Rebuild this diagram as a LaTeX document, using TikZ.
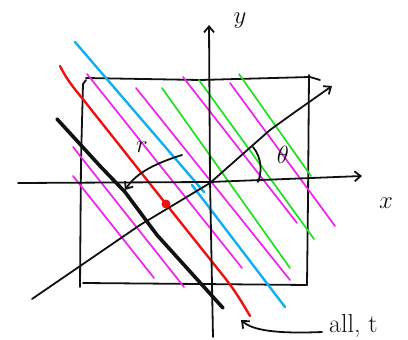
\documentclass[tikz,border=0pt]{standalone}
\usepackage{xcolor}
\usepackage{tikz}
\usetikzlibrary{arrows.meta,positioning}
\definecolor{ink}{HTML}{111111}
\definecolor{pinkln}{HTML}{F020F0}
\definecolor{skyln}{HTML}{10B0F0}
\definecolor{limeln}{HTML}{20E020}
\definecolor{redln}{HTML}{F01010}
\tikzset{
  pen/.style={draw=ink, line width=1.8pt, line cap=round, line join=round},
  axis/.style={pen, -{Straight Barb[length=6pt, width=10pt]}},
  hatch/.style={line width=1.7pt, line cap=round},
  pinkhatch/.style={hatch, draw=pinkln},
  skyhatch/.style={hatch, draw=skyln, line width=2.4pt},
  limehatch/.style={hatch, draw=limeln},
  lbl/.style={font=\fontsize{26}{28}\selectfont, text=ink, inner sep=1pt},
}
\begin{document}
\begin{tikzpicture}[x=1pt, y=-1pt]
\useasboundingbox (0,0) rectangle (408,340);
% frame
\draw[pen] (86,80) -- (83,84) -- (81,160) -- (80,287);
\draw[pen] (86,78) -- (200,80) -- (310,77) -- (320,80);
\draw[pen] (309,75) -- (308,200) -- (307,285);
\draw[pen] (83,283) -- (200,284) -- (307,285);
% hatching
\draw[pinkhatch] (73,147) -- (184,287);
\draw[pinkhatch] (73,176) -- (154,278);
\draw[pinkhatch] (87,74) -- (242,268);
\draw[pinkhatch] (136,88) -- (290,280);
\draw[pinkhatch] (183,77) -- (297,223);
\draw[pinkhatch] (230,83) -- (335,226);
\draw[limehatch] (162,88) -- (290,268);
\draw[limehatch] (199,80) -- (314,239);
\draw[limehatch] (239,74) -- (311,176);
\draw[skyhatch] (75,42) -- (204,192);
\draw[skyhatch] (192,185) -- (285,307);
\draw[draw=redln, line width=2.4pt, line cap=round]
  (60,66) .. controls (66,78) and (72,86) .. (82,98) -- (166,204) -- (225,278)
  .. controls (236,292) and (243,304) .. (250,316);
\draw[ink, line width=3.6pt, line cap=round, line join=round]
  (57,119) -- (100,166) -- (125,192) -- (157,235) -- (223,308);
\draw[ink, line width=1.2pt] (60,122) -- (104,170) -- (128,196);
% axes
\draw[axis] (18,183) -- (210,182) -- (362,176);
\draw[axis] (213,337) -- (210,180) -- (209,25);
\draw[axis] (32,299) -- (140,225) -- (210,183) -- (270,130) -- (295,112) -- (332,86);
\draw[pen] (253,147) .. controls (262,158) and (262,172) .. (258,182);
\draw[axis] (182,155) .. controls (150,165) and (135,175) .. (125,190);
\fill[redln] (166,204) circle (4.5pt);
\draw[axis] (322,332) .. controls (275,334) and (252,330) .. (241,320);
% labels
\node[lbl] (theta) at (283,155) {$\theta$};
\node[lbl] (rlbl) at (142,147) {$r$};
\node[lbl] (xlbl) at (386,203) {$x$};
\node[lbl] (ylbl) at (240,21) {$y$};
\node[lbl, anchor=base west] (note) at (328,332) {all, t};
\end{tikzpicture}
\end{document}
